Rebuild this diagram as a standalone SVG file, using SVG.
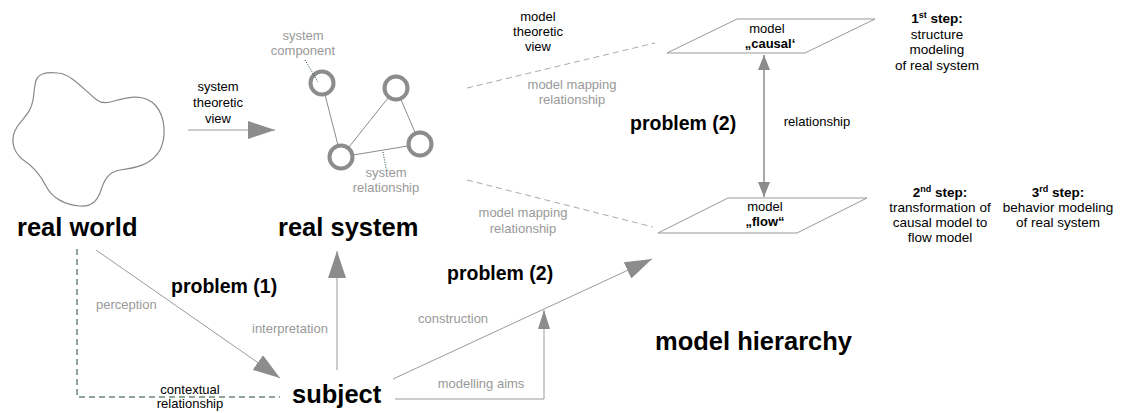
<svg xmlns="http://www.w3.org/2000/svg" width="1126" height="413" viewBox="0 0 1126 413">
  <style>
    text { font-family: "Liberation Sans", Arial, sans-serif; }
    .t { font-size: 13px; fill: #000; text-anchor: middle; }
    .g { font-size: 13px; fill: #999; text-anchor: middle; }
    .gs { font-size: 13px; fill: #999; }
    .big { font-size: 25.5px; font-weight: bold; fill: #000; }
    .prob { font-size: 19.5px; font-weight: bold; fill: #000; }
    .step { font-size: 13.5px; fill: #000; text-anchor: middle; }
    .sb { font-weight: bold; }
    .ln { stroke: #9a9a9a; stroke-width: 1; fill: none; }
    .dash { stroke: #aaa; stroke-width: 1; stroke-dasharray: 6 4; fill: none; }
    .ctx { stroke: #1f4d2e; stroke-width: 1; stroke-dasharray: 6 4; fill: none; }
    .ptr { stroke: #1f4d2e; stroke-width: 1; stroke-dasharray: 1 1.5; fill: none; }
    .plane { stroke: #999; stroke-width: 1; fill: #fff; }
    .comp { stroke: #8c8c8c; stroke-width: 4; fill: #fff; }
    .rel { stroke: #8c8c8c; stroke-width: 1; fill: none; }
  </style>
  <defs>
    <marker id="head" markerUnits="userSpaceOnUse" markerWidth="27" markerHeight="18" refX="27" refY="9" orient="auto">
      <path d="M0,0 L27,9 L0,18 Z" fill="#8c8c8c"/>
    </marker>
    <marker id="head-s" markerUnits="userSpaceOnUse" markerWidth="15" markerHeight="12" refX="15" refY="6" orient="auto-start-reverse">
      <path d="M0,0 L15,6 L0,12 Z" fill="#8c8c8c"/>
    </marker>
    <marker id="head-m" markerUnits="userSpaceOnUse" markerWidth="19" markerHeight="12" refX="19" refY="6" orient="auto">
      <path d="M0,0 L19,6 L0,12 Z" fill="#8c8c8c"/>
    </marker>
  </defs>
  <rect width="1126" height="413" fill="#fff"/>

  <!-- connectors -->
  <g id="connectors">
    <!-- system theoretic view -->
    <line class="ln" x1="188" y1="130" x2="275" y2="130" marker-end="url(#head)"/>
    <!-- perception -->
    <line class="ln" x1="96" y1="250" x2="280" y2="378" marker-end="url(#head)"/>
    <!-- interpretation -->
    <line class="ln" x1="337" y1="370" x2="337" y2="251" marker-end="url(#head)"/>
    <!-- construction -->
    <line class="ln" x1="393" y1="379" x2="652" y2="259" marker-end="url(#head)"/>
    <!-- modelling aims -->
    <polyline class="ln" points="395,399 544,399 544,310" marker-end="url(#head-m)"/>
    <!-- contextual relationship -->
    <polyline class="ctx" points="77,249 77,397 280,397"/>
    <!-- model mapping relationships -->
    <line class="dash" x1="467" y1="88" x2="655" y2="43"/>
    <line class="dash" x1="467" y1="180" x2="653" y2="227"/>
    <!-- relationship between models -->
    <line x1="764" y1="55" x2="764" y2="197" stroke="#aaa" stroke-width="2" marker-start="url(#head-s)" marker-end="url(#head-s)"/>
  </g>

  <!-- real world -->
  <g id="real-world">
    <path d="M35,85 C36,72 48,72 58,73 C72,74 86,92 97,100 C102,104 108,103 114,101 C128,97 145,93 156,106 C166,118 166,138 160,150 C152,165 135,168 120,170 C108,172 104,180 100,193 C96,203 90,207 80,206 C65,205 52,198 46,186 C40,174 33,166 22,159 C12,150 10,138 17,127 C24,117 31,112 33,100 C34,94 34,90 35,85 Z" fill="none" stroke="#888" stroke-width="1.2"/>
    <text class="big" x="17" y="236">real world</text>
  </g>

  <g id="system-theoretic-view">
    <text class="t" x="218" y="91">system</text>
    <text class="t" x="218" y="107">theoretic</text>
    <text class="t" x="218" y="123">view</text>
  </g>

  <!-- real system: components and relationships -->
  <g id="real-system">
    <line class="rel" x1="322" y1="83" x2="341" y2="157"/>
    <line class="rel" x1="341" y1="157" x2="396" y2="88"/>
    <line class="rel" x1="396" y1="88" x2="420" y2="144"/>
    <line class="rel" x1="341" y1="157" x2="420" y2="144"/>
    <circle class="comp" cx="322" cy="83" r="11.5"/>
    <circle class="comp" cx="396" cy="88" r="11.5"/>
    <circle class="comp" cx="420" cy="144" r="11.5"/>
    <circle class="comp" cx="341" cy="157" r="11.5"/>
    <line class="ptr" x1="305" y1="60" x2="318" y2="82"/>
    <line class="ptr" x1="383" y1="152" x2="386" y2="168"/>
    <text class="g" x="303" y="40">system</text>
    <text class="g" x="303" y="55">component</text>
    <text class="g" x="386" y="177">system</text>
    <text class="g" x="386" y="192">relationship</text>
    <text class="big" x="278" y="236">real system</text>
  </g>

  <g id="model-theoretic-view">
    <text class="t" x="538" y="21">model</text>
    <text class="t" x="538" y="36">theoretic</text>
    <text class="t" x="538" y="51">view</text>
  </g>

  <g id="mapping-labels">
    <text class="g" x="572" y="89">model mapping</text>
    <text class="g" x="572" y="104">relationship</text>
    <text class="g" x="523" y="217">model mapping</text>
    <text class="g" x="523" y="233">relationship</text>
  </g>

  <g id="model-causal">
    <polygon class="plane" points="667,53 737,19 875,19 805,53"/>
    <text class="t" x="767" y="33">model</text>
    <text class="t sb" x="770" y="48">„causal‘</text>
  </g>

  <g id="model-flow">
    <polygon class="plane" points="658,233 728,198 867,198 797,233"/>
    <text class="t" x="765" y="211">model</text>
    <text class="t sb" x="765" y="226">„flow“</text>
  </g>

  <g id="model-relationship-labels">
    <text class="prob" x="630" y="130">problem (2)</text>
    <text class="t" x="817" y="126">relationship</text>
  </g>

  <g id="step-1">
    <text class="step sb" x="937" y="23">1<tspan font-size="9" dy="-5">st</tspan><tspan dy="5"> step:</tspan></text>
    <text class="step" x="937" y="39">structure</text>
    <text class="step" x="937" y="54">modeling</text>
    <text class="step" x="937" y="70">of real system</text>
  </g>

  <g id="step-2">
    <text class="step sb" x="940" y="197">2<tspan font-size="9" dy="-5">nd</tspan><tspan dy="5"> step:</tspan></text>
    <text class="step" x="940" y="212">transformation of</text>
    <text class="step" x="940" y="227">causal model to</text>
    <text class="step" x="940" y="242">flow model</text>
  </g>

  <g id="step-3">
    <text class="step sb" x="1058" y="197">3<tspan font-size="9" dy="-5">rd</tspan><tspan dy="5"> step:</tspan></text>
    <text class="step" x="1058" y="212">behavior modeling</text>
    <text class="step" x="1058" y="227">of real system</text>
  </g>

  <g id="subject">
    <text class="big" x="292" y="403">subject</text>
  </g>

  <g id="edge-labels">
    <text class="gs" x="96" y="309">perception</text>
    <text class="prob" x="171" y="293">problem (1)</text>
    <text class="gs" x="252" y="333">interpretation</text>
    <text class="gs" x="418" y="323">construction</text>
    <text class="prob" x="447" y="280">problem (2)</text>
    <text class="g" x="481" y="388">modelling aims</text>
    <text class="t" x="190" y="394">contextual</text>
    <text class="t" x="190" y="408">relationship</text>
  </g>

  <g id="model-hierarchy">
    <text class="big" x="655" y="350" font-size="26">model hierarchy</text>
  </g>
</svg>
